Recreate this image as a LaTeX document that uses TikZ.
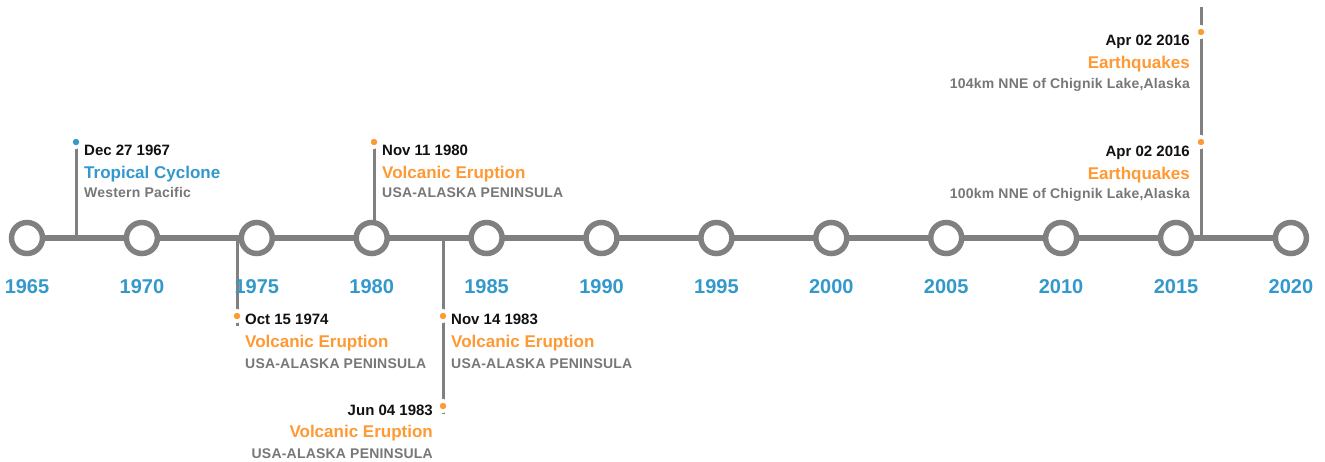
\documentclass[tikz,border=0pt]{standalone}
\usepackage{fontspec}
\setmainfont{Liberation Sans}
\newfontfamily\subfont[LetterSpace=1.5]{Liberation Sans}
\definecolor{lineg}{RGB}{128,128,128}
\definecolor{yearblue}{RGB}{51,153,204}
\definecolor{evorange}{RGB}{255,153,51}
\definecolor{subgray}{RGB}{119,119,119}
\definecolor{dateblk}{RGB}{17,17,17}
\begin{document}
\begin{tikzpicture}[x=1pt,y=-1pt,
  yearcircle/.style={circle, draw=lineg, line width=5.5pt, fill=white, minimum size=31pt, inner sep=0pt},
  yearlabel/.style={anchor=base, font=\bfseries\fontsize{20}{20}\selectfont, text=yearblue, inner sep=0pt},
  datetxt/.style={font=\bfseries\fontsize{15}{15}\selectfont, text=dateblk, inner sep=0pt},
  titleorange/.style={font=\bfseries\fontsize{17}{17}\selectfont, text=evorange, inner sep=0pt},
  titleblue/.style={font=\bfseries\fontsize{17}{17}\selectfont, text=yearblue, inner sep=0pt},
  subtxt/.style={font=\subfont\bfseries\fontsize{14}{14}\selectfont, text=subgray, inner sep=0pt},
  stemline/.style={draw=lineg, line width=3pt},
  mainline/.style={draw=lineg, line width=6pt},
  dotorange/.style={circle, fill=evorange, draw=white, line width=3.5pt, minimum size=10.5pt, inner sep=0pt},
  dotblue/.style={circle, fill=yearblue, draw=white, line width=3.5pt, minimum size=10.5pt, inner sep=0pt},
]
\fill[white] (0,0) rectangle (1325,461);
\useasboundingbox (0,0) rectangle (1325,461);

% coordinates of the year marks
\foreach \i in {0,...,11} {
  \pgfmathtruncatemacro\yr{1965+5*\i}
  \coordinate (p\yr) at ({27+114.9*\i},238);
}

% stems
\coordinate (b1967) at (76,238);   \coordinate (k1967) at (76,142);
\coordinate (b1980) at (374,238);  \coordinate (k1980) at (374,142);
\coordinate (b1974) at (237,238);  \coordinate (e1974) at (237,326);
\coordinate (b1983) at (443,238);  \coordinate (e1983) at (443,414);
\coordinate (b2016) at (1201,238); \coordinate (e2016) at (1201,7);
\draw[stemline] (b1967) -- (k1967);
\draw[stemline] (b1980) -- (k1980);
\draw[stemline] (b1974) -- (e1974);
\draw[stemline] (b1983) -- (e1983);
\draw[stemline] (b2016) -- (e2016);

% main line
\draw[mainline] (p1965) -- (p2020);

% circles and year labels
\foreach \i in {0,...,11} {
  \pgfmathtruncatemacro\yr{1965+5*\i}
  \node[yearcircle] (c\yr) at (p\yr) {};
  \node[yearlabel] (l\yr) at ({27+114.9*\i},293) {\yr};
}

% dots
\node[dotblue]   (dot1967) at (k1967) {};
\node[dotorange] (dot1980) at (k1980) {};
\node[dotorange] (dot1974) at (237,316) {};
\node[dotorange] (dot1983a) at (443,316) {};
\node[dotorange] (dot1983b) at (443,406) {};
\node[dotorange] (dot2016a) at (1201,32) {};
\node[dotorange] (dot2016b) at (1201,142) {};

% Dec 27 1967
\node[datetxt, anchor=base west] (d1967) at (84,155.5) {Dec 27 1967};
\node[titleblue, anchor=base west] (t1967) at (84,178) {Tropical Cyclone};
\node[subtxt, anchor=base west] (s1967) at (84,197) {Western Pacific};

% Nov 11 1980
\node[datetxt, anchor=base west] (d1980) at (382,155.5) {Nov 11 1980};
\node[titleorange, anchor=base west] (t1980) at (382,178) {Volcanic Eruption};
\node[subtxt, anchor=base west] (s1980) at (382,197) {USA-ALASKA PENINSULA};

% Oct 15 1974
\node[datetxt, anchor=base west] (d1974) at (245,324) {Oct 15 1974};
\node[titleorange, anchor=base west] (t1974) at (245,347) {Volcanic Eruption};
\node[subtxt, anchor=base west] (s1974) at (245,368) {USA-ALASKA PENINSULA};

% Nov 14 1983
\node[datetxt, anchor=base west] (d1983a) at (451,324) {Nov 14 1983};
\node[titleorange, anchor=base west] (t1983a) at (451,347) {Volcanic Eruption};
\node[subtxt, anchor=base west] (s1983a) at (451,368) {USA-ALASKA PENINSULA};

% Jun 04 1983
\node[datetxt, anchor=base east] (d1983b) at (433,415) {Jun 04 1983};
\node[titleorange, anchor=base east] (t1983b) at (433,437.5) {Volcanic Eruption};
\node[subtxt, anchor=base east] (s1983b) at (433,458) {USA-ALASKA PENINSULA};

% Apr 02 2016 (upper)
\node[datetxt, anchor=base east] (d2016a) at (1190,45.5) {Apr 02 2016};
\node[titleorange, anchor=base east] (t2016a) at (1190,68) {Earthquakes};
\node[subtxt, anchor=base east] (s2016a) at (1190,88) {104km NNE of Chignik Lake,Alaska};

% Apr 02 2016 (lower)
\node[datetxt, anchor=base east] (d2016b) at (1190,156) {Apr 02 2016};
\node[titleorange, anchor=base east] (t2016b) at (1190,179) {Earthquakes};
\node[subtxt, anchor=base east] (s2016b) at (1190,198) {100km NNE of Chignik Lake,Alaska};
\end{tikzpicture}
\end{document}
